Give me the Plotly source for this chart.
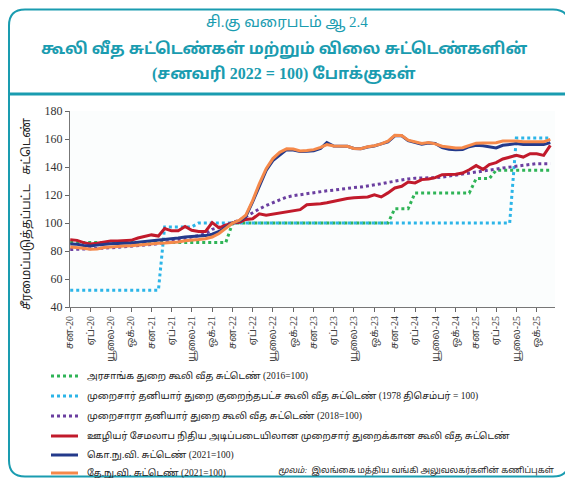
import plotly.graph_objects as go
import pandas as pd

# ---------------- data (Jan 2020 = first month, Dec 2025 = last) ----------------
months = pd.date_range("2020-01-01", "2025-12-01", freq="MS")

gov_wage = [86, 86, 86, 86, 86, 86, 86, 86, 86, 86, 86, 86,
            86, 86, 86, 86, 86, 86, 86, 86, 86, 86, 86, 86,
            100, 100, 100, 100, 100, 100, 100, 100, 100, 100, 100, 100,
            100, 100, 100, 100, 100, 100, 100, 100, 100, 100, 100, 100,
            110.2, 110.2, 110.2, 121.4, 121.4, 121.4, 121.4, 121.4, 121.4, 121.4, 121.4, 121.4,
            131.7, 131.7, 131.7, 137.6, 137.6, 137.6, 137.6, 137.6, 137.6, 137.6, 137.6, 137.6]

formal_min_wage = [52, 52, 52, 52, 52, 52, 52, 52, 52, 52, 52, 52,
                   52, 52, 97.2, 97.2, 97.2, 97.2, 97.2, 100, 100, 100, 100, 100,
                   100, 100, 100, 100, 100, 100, 100, 100, 100, 100, 100, 100,
                   100, 100, 100, 100, 100, 100, 100, 100, 100, 100, 100, 100,
                   100, 100, 100, 100, 100, 100, 100, 100, 100, 100, 100, 100,
                   100, 100, 100, 100, 100, 100, 160.7, 160.7, 160.7, 160.7, 160.7, 160.7]

informal_wage = [81, 81.1, 81.3, 81.5, 81.7, 82, 82.3, 82.6, 82.9, 83.2, 83.6, 84.1,
                 84.6, 85.3, 86.1, 87, 87.9, 88.9, 89.9, 91, 92.4, 95.5, 97, 98.5,
                 100, 102, 104.5, 107.5, 110, 112.5, 114.5, 116.5, 118.5, 119.5, 120.3, 121,
                 121.5, 122.5, 123, 123.5, 124.2, 124.8, 125.3, 125.7, 126.3, 127, 128, 129,
                 130, 131, 131.5, 132, 132, 132.3, 132.4, 132.8, 133.5, 134, 134.8, 135.5,
                 136, 137, 137.5, 138.5, 139.3, 140, 140.8, 141.5, 142.2, 142.4, 142.4, 142.4]

epf_wage = [88, 87.6, 86, 85, 85.5, 86.5, 87.1, 87.1, 87.1, 87.6, 89.3, 90.3,
            91.5, 90.7, 96, 94.4, 94.4, 97.5, 94.8, 94, 94, 100.3, 96.5, 98.5,
            100, 100.5, 102.5, 103, 106.6, 105.5, 106.3, 106.7, 107.9, 108.5, 109.5, 113,
            113.3, 113.8, 114.5, 115.5, 116.7, 117.5, 118.1, 118.5, 118.6, 120.2, 118.6, 121.5,
            125, 126.2, 129.3, 128.6, 131, 131.5, 132.4, 134.5, 134.6, 134.8, 135.7, 138,
            141, 138.3, 141.7, 143.1, 145.7, 147.1, 148.3, 147.1, 149.5, 149.5, 148.3, 155.5]

ccpi = [85, 84.8, 84, 83.6, 84.2, 84.8, 85.2, 85.4, 85.5, 85.8, 86.3, 86.8,
        87.2, 87.4, 87.8, 88.6, 89.3, 90, 90.3, 90.5, 91, 92, 94, 97,
        100, 101.5, 104.5, 115, 126, 137.6, 144.5, 148.5, 152.4, 152.2, 151, 151.2,
        151.6, 153.2, 157.5, 155, 154.8, 154.8, 153.2, 153, 154.3, 155, 156.5, 158,
        162.3, 162.3, 158.8, 157.5, 156.3, 157.2, 156.8, 153.8, 152.6, 152.4, 152.5, 154.5,
        155.5, 155.2, 154.5, 153.6, 155.5, 156.2, 156.7, 156, 156, 156, 156, 157.4]

ncpi = [82.9, 82.6, 82, 81.3, 81.5, 82.5, 83, 83.2, 83.5, 83.8, 84.3, 84.8,
        85.2, 85.5, 85.7, 86, 86.5, 87.3, 87.6, 88.2, 88.8, 90, 92.5, 96,
        100, 102, 105.5, 116, 128, 138.8, 146, 150.5, 153, 152.8, 151.5, 151.8,
        152.4, 154, 156, 155, 154.8, 154.8, 153.2, 153, 154.5, 155.2, 156.5, 158.5,
        162.6, 162.5, 159.2, 158, 156.8, 157.5, 156.5, 154.8, 154, 153.6, 153.8, 155.5,
        157, 157.1, 157, 157.3, 158.5, 158.6, 158.6, 158, 157.9, 157.9, 158, 159.8]

series_names = [
    "அரசாங்க துறை கூலி வீத சுட்டெண் (2016=100)",
    "முறைசார் தனியார் துறை குறைந்தபட்ச கூலி வீத சுட்டெண் (1978 திசெம்பர் = 100)",
    "முறைசாரா தனியார் துறை கூலி வீத சுட்டெண் (2018=100)",
    "ஊழியர் சேமலாப நிதிய அடிப்படையிலான முறைசார் துறைக்கான கூலி வீத சுட்டெண்",
    "கொ.நு.வி. சுட்டெண் (2021=100)",
    "தே.நு.வி. சுட்டெண் (2021=100)",
]

tick_dates = pd.date_range("2020-01-01", "2025-10-01", freq="3MS")
tick_labels = ["சன-20", "ஏப்-20", "யூலை-20", "ஒக்-20",
               "சன-21", "ஏப்-21", "யூலை-21", "ஒக்-21",
               "சன-22", "ஏப்-22", "யூலை-22", "ஒக்-22",
               "சன-23", "ஏப்-23", "யூலை-23", "ஒக்-23",
               "சன-24", "ஏப்-24", "யூலை-24", "ஒக்-24",
               "சன-25", "ஏப்-25", "யூலை-25", "ஒக்-25"]
y_ticks = [40, 60, 80, 100, 120, 140, 160, 180]

title_line1 = "சி.கு வரைபடம் ஆ 2.4"
title_line2 = "கூலி வீத சுட்டெண்கள் மற்றும் விலை சுட்டெண்களின்"
title_line3 = "(சனவரி 2022 = 100) போக்குகள்"
y_title = "சீரமைப்படுத்தப்பட்ட   சுட்டெண்"
source_label = "மூலம்:"
source_text = "இலங்கை மத்திய வங்கி அலுவலகர்களின் கணிப்புகள்"

# ---------------- figure ----------------
TEAL = "#1a9cb0"
FONT = "Liberation Serif, Noto Sans Tamil, serif"

# the page places the figure 8px from the window's top-left corner
OFF = 8
WIN_W, WIN_H = 573, 478
ML, MR, MT, MB = 70, 18, 111, 171          # in window pixels
PW = WIN_W - ML - MR
PH = WIN_H - MT - MB


def px(x):
    return (x - ML) / PW


def py(y):
    return (WIN_H - MB - y) / PH


fig = go.Figure()

styles = [
    dict(color="#2fb457", width=3, dash="3px,3px"),
    dict(color="#2cb5e8", width=3, dash="3px,3px"),
    dict(color="#6b3fa0", width=3, dash="3px,3px"),
    dict(color="#c11a2b", width=3),
    dict(color="#233a8b", width=3),
    dict(color="#f5894a", width=3),
]
all_series = [gov_wage, formal_min_wage, informal_wage, epf_wage, ccpi, ncpi]

for name, vals, st in zip(series_names, all_series, styles):
    fig.add_trace(go.Scatter(x=months, y=vals, mode="lines", name=name,
                             line=st, hoverinfo="skip", showlegend=False))

# legend drawn as keys + labels below the chart
legend_rows = [376, 396, 416, 436, 455, 473]
for name, st, ry in zip(series_names, styles, legend_rows):
    fig.add_shape(type="line", xref="paper", yref="paper",
                  x0=px(51), x1=px(78), y0=py(ry), y1=py(ry),
                  line=dict(color=st["color"], width=3, dash=st.get("dash", "solid")))
    fig.add_annotation(text=name, xref="paper", yref="paper",
                       x=px(85), y=py(ry), xanchor="left", yanchor="middle",
                       showarrow=False, font=dict(size=9.5, color="#222"))

fig.update_layout(
    width=WIN_W - OFF, height=WIN_H - OFF,
    margin=dict(l=ML - OFF, r=MR, t=MT - OFF, b=MB, autoexpand=False),
    paper_bgcolor="white",
    plot_bgcolor="#fbfdfd",
    font=dict(family=FONT, size=11, color="#333"),
    showlegend=False,
    xaxis=dict(type="date", range=["2019-12-31", "2025-12-22"],
               tickmode="array", tickvals=tick_dates, ticktext=tick_labels,
               tickangle=-90, ticks="outside", ticklen=4, tickcolor="#666",
               showline=True, linecolor="#777", linewidth=1,
               showgrid=False, zeroline=False,
               tickfont=dict(size=10, color="#444")),
    yaxis=dict(range=[40, 180], tickvals=y_ticks,
               ticks="outside", ticklen=4, tickcolor="#666",
               showline=True, linecolor="#777", linewidth=1,
               showgrid=False, zeroline=False,
               tickfont=dict(size=12, color="#333", family="Liberation Serif")),
)

# frame shapes
r = 16
x0, x1, y0, y1 = 9, 569, 9.5, 476.5
path = (f"M {px(x0 + r)},{py(y0)} L {px(x1 - r)},{py(y0)} "
        f"Q {px(x1)},{py(y0)} {px(x1)},{py(y0 + r)} "
        f"L {px(x1)},{py(y1 - r)} Q {px(x1)},{py(y1)} {px(x1 - r)},{py(y1)} "
        f"L {px(x0 + r)},{py(y1)} Q {px(x0)},{py(y1)} {px(x0)},{py(y1 - r)} "
        f"L {px(x0)},{py(y0 + r)} Q {px(x0)},{py(y0)} {px(x0 + r)},{py(y0)} Z")
fig.add_shape(type="path", path=path, xref="paper", yref="paper",
              line=dict(color=TEAL, width=2), layer="below")
fig.add_shape(type="line", xref="paper", yref="paper",
              x0=px(x0), x1=px(x1), y0=py(94), y1=py(94),
              line=dict(color=TEAL, width=3))

# titles
fig.add_annotation(text=title_line1, xref="paper", yref="paper",
                   x=px(287), y=py(24), xanchor="center", yanchor="middle",
                   showarrow=False, font=dict(size=15, color=TEAL))
fig.add_annotation(text="<b>" + title_line2 + "</b>", xref="paper", yref="paper",
                   x=px(284), y=py(50), xanchor="center", yanchor="middle",
                   showarrow=False, font=dict(size=16, color=TEAL))
fig.add_annotation(text="<b>" + title_line3 + "</b>", xref="paper", yref="paper",
                   x=px(284), y=py(74), xanchor="center", yanchor="middle",
                   showarrow=False, font=dict(size=16, color=TEAL))

# y-axis title
fig.add_annotation(text=y_title, xref="paper", yref="paper",
                   x=px(26), y=py(214), xanchor="center", yanchor="middle",
                   textangle=-90, showarrow=False,
                   font=dict(size=12, color="#222"))

# source
fig.add_annotation(text="<i>" + source_label + "</i>  " + source_text,
                   xref="paper", yref="paper", x=px(556), y=py(470),
                   xanchor="right", yanchor="middle", showarrow=False,
                   font=dict(size=8.5, color="#222"))

fig.write_html("out.html")
